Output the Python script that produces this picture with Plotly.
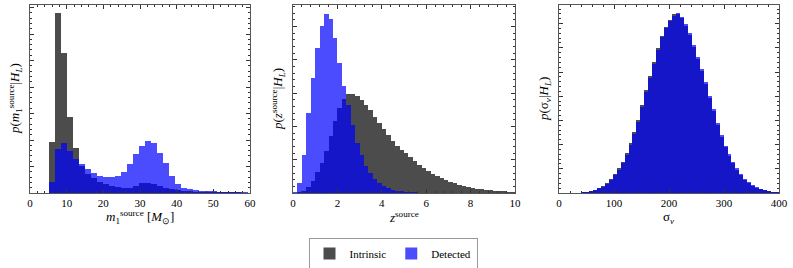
import numpy as np
import plotly.graph_objects as go

# ---------------- data ----------------
# Panel 1: primary source-frame mass histogram (bin range and counts)
m1_bin_start, m1_bin_end, m1_nbins = 5.2, 59.32, 33
m1_intrinsic = [51.3, 179.7, 139.7, 76.3, 45.3, 27, 19.5, 15, 11.5, 9, 7.5, 6.5, 5.5, 5.5,
                7.5, 10, 10.5, 9.5, 7.5, 5.5, 4, 3, 2.3, 1.8, 1.5, 1.3, 1.1, 1.0, 0.9, 0.8,
                0.7, 0.6, 0.5]
m1_detected = [11.3, 44, 50.3, 42.3, 34.3, 29, 24, 20.3, 17.5, 16, 15.7, 17, 20.7, 28.7,
               38.7, 47, 52, 49.7, 39.7, 29.7, 17, 9, 5.5, 3.7, 2.8, 2.3, 2, 1.7, 1.5, 1.3,
               1.2, 1.0, 0.8]

# Panel 2: source redshift histogram
z_bin_start, z_bin_end, z_nbins = 0.0, 10.0, 50
z_intrinsic = [0.2, 0.8, 2.5, 6, 12, 21, 30, 42, 57, 72, 85, 94, 99, 99.5, 97, 93, 88, 83,
               76, 70, 64, 58, 52.5, 47.5, 43.5, 40, 36, 32, 28, 25, 22, 19.5, 17, 15, 13,
               11.3, 9.8, 8.5, 7.3, 6.2, 5.3, 4.5, 3.9, 3.3, 2.8, 2.4, 2.0, 1.7, 1.4, 1.1]
z_detected = [1, 10, 38, 80, 115, 145, 167, 179, 174, 155, 130, 107, 88, 68, 50, 38, 27,
              20, 14, 10, 7, 5, 3.5, 2.5, 1.8, 1.3, 0.9, 0.6, 0.4, 0.3, 0.2, 0.15, 0.1,
              0.1, 0.05, 0.05, 0, 0, 0, 0, 0, 0, 0, 0, 0, 0, 0, 0, 0, 0]

# Panel 3: velocity dispersion histogram
s_bin_start, s_bin_end, s_nbins = 40.0, 400.0, 50
s_intrinsic = [1.0, 1.5, 2.5, 3.4, 5.0, 7.0, 10, 14, 19, 25, 31.5, 40, 50, 61, 73, 88, 103,
               117, 131, 145, 157, 166, 173, 179, 179.5, 175, 167, 158, 146, 134, 122, 109,
               95, 82, 68, 56, 46, 37.5, 30, 23.5, 18, 13.5, 10, 7.5, 5.5, 3.8, 2.6, 1.8,
               1.2, 0.7]
s_detected = [0.8, 1.3, 2.2, 3.1, 4.6, 6.5, 9.2, 13, 17.8, 23.5, 30, 38.5, 48.5, 59, 71, 86,
              101, 115, 129.5, 143, 156, 165.5, 172.5, 177, 180, 176.5, 169, 160.5, 148.5,
              136.5, 124.5, 111.5, 97.5, 84, 70, 58, 47.5, 39, 31.5, 24.8, 19, 14.3, 10.7,
              8, 5.9, 4.1, 2.8, 1.9, 1.3, 0.8]

x_titles = ["<i>m</i><sub>1</sub><sup>source</sup> [<i>M</i><sub>⊙</sub>]",
            "<i>z</i><sup>source</sup>",
            "σ<sub><i>v</i></sub>"]
y_titles = ["<i>p</i>(<i>m</i><sub>1</sub><sup>source</sup>|<i>H<sub>L</sub></i>)",
            "<i>p</i>(<i>z</i><sup>source</sup>|<i>H<sub>L</sub></i>)",
            "<i>p</i>(σ<sub><i>v</i></sub>|<i>H<sub>L</sub></i>)"]
x_ranges = [[0, 60], [0, 10], [0, 400]]
x_dticks = [10, 2, 100]
series_names = ["Intrinsic", "Detected"]

# ---------------- styling ----------------
W, H = 793, 268
FONT = "Liberation Serif, Times New Roman, serif"
GRAY = "rgba(0,0,0,0.70)"
BLUE = "rgba(0,0,255,0.70)"

panels_px = [(30, 250), (293, 515), (559, 779)]
y_top_px, y_bot_px = 5, 193
y_dom = [(H - y_bot_px) / H, (H - y_top_px) / H]
y_major = [26.5, 33.3, 24.2]

fig = go.Figure()

datasets = [
    (m1_bin_start, m1_bin_end, m1_nbins, m1_intrinsic, m1_detected),
    (z_bin_start, z_bin_end, z_nbins, z_intrinsic, z_detected),
    (s_bin_start, s_bin_end, s_nbins, s_intrinsic, s_detected),
]

for i, (b0, b1, nb, intr, det) in enumerate(datasets):
    edges = np.linspace(b0, b1, nb + 1)
    centers = 0.5 * (edges[:-1] + edges[1:])
    width = edges[1] - edges[0]
    xa = "x" if i == 0 else f"x{i+1}"
    ya = "y" if i == 0 else f"y{i+1}"
    fig.add_trace(go.Bar(x=centers, y=intr, width=width, name=series_names[0],
                         marker=dict(color=GRAY, line=dict(width=0)),
                         xaxis=xa, yaxis=ya, showlegend=(i == 0), legendrank=1))
    fig.add_trace(go.Bar(x=centers, y=det, width=width, name=series_names[1],
                         marker=dict(color=BLUE, line=dict(width=0)),
                         xaxis=xa, yaxis=ya, showlegend=(i == 0), legendrank=2))

layout = dict(
    width=W, height=H,
    margin=dict(l=0, r=0, t=0, b=0, autoexpand=False),
    paper_bgcolor="white", plot_bgcolor="white",
    barmode="overlay", bargap=0,
    font=dict(family=FONT, size=10, color="black"),
    showlegend=True,
    legend=dict(orientation="h", x=(321 + 465) / 2 / W, xanchor="center",
                y=(H - 253.5) / H, yanchor="middle",
                bordercolor="#999999", borderwidth=1, bgcolor="white",
                font=dict(family=FONT, size=11), traceorder="normal",
                itemwidth=30, tracegroupgap=0),
    annotations=[],
)

for i in range(3):
    x0, x1 = panels_px[i]
    suffix = "" if i == 0 else str(i + 1)
    axcommon = dict(showline=True, linecolor="#555555", linewidth=1, mirror="allticks",
                    ticks="inside", tickcolor="#333333", showgrid=False, zeroline=False,
                    automargin=False)
    layout["xaxis" + suffix] = dict(
        domain=[x0 / W, x1 / W], range=x_ranges[i], anchor="y" + suffix,
        dtick=x_dticks[i], tick0=0, ticklen=4, ticklabeloverflow="allow",
        minor=dict(ticks="inside", ticklen=2, dtick=x_dticks[i] / 5, tickcolor="#333333"),
        tickfont=dict(family=FONT, size=11), **axcommon)
    layout["yaxis" + suffix] = dict(
        domain=y_dom, range=[0, y_bot_px - y_top_px], anchor="x" + suffix,
        dtick=y_major[i], tick0=0, ticklen=4, showticklabels=False,
        minor=dict(ticks="inside", ticklen=2, dtick=y_major[i] / 5, tickcolor="#333333"),
        **axcommon)
    layout["annotations"].append(dict(
        text=x_titles[i], xref="paper", yref="paper",
        x=(x0 + x1) / 2 / W, y=(H - 217) / H, xanchor="center", yanchor="middle",
        showarrow=False, font=dict(family=FONT, size=13)))
    layout["annotations"].append(dict(
        text=y_titles[i], xref="paper", yref="paper",
        x=(x0 - 15) / W, y=(H - 99) / H, xanchor="center", yanchor="middle",
        textangle=-90, showarrow=False, font=dict(family=FONT, size=13)))

fig.update_layout(**layout)
fig.write_html("out.html", config={"displayModeBar": False},
               post_script="document.body.style.margin='0';document.body.style.padding='0';")
